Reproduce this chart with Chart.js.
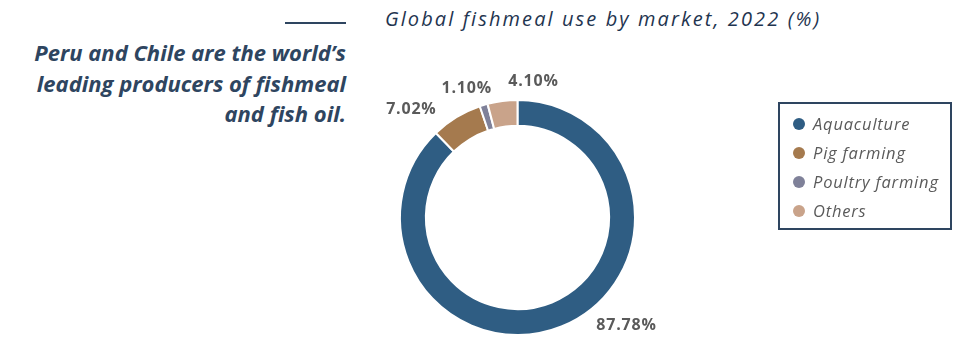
<!DOCTYPE html>
<html>
<head>
<meta charset="utf-8">
<script src="https://cdn.jsdelivr.net/npm/chart.js@4"></script>
<style>
  html, body { margin: 0; padding: 0; background: #fff; }
  body { width: 961px; height: 337px; position: relative; overflow: hidden; font-family: "Open Sans", Lato, sans-serif; }
  #chart { position: absolute; left: 0; top: 0; }
  .rule { position: absolute; left: 285px; top: 22px; width: 61px; height: 2px; background: #2e4560; }
  .headline {
    position: absolute; right: 615px; top: 37px; width: 360px; text-align: right;
    font-weight: bold; font-style: italic; font-size: 22px; line-height: 30.5px; color: #2e4560;
    letter-spacing: 0;
  }
  .title {
    position: absolute; left: 385px; top: 5px;
    font-style: italic; font-size: 20px; letter-spacing: 2.1px; color: #1f3550;
  }
  .legend {
    position: absolute; left: 778px; top: 102px; width: 170px; height: 124px;
    border: 2px solid #2e4560; box-sizing: content-box;
  }
  .legend div { position: absolute; left: 33px; font-style: italic; font-size: 16.5px; letter-spacing: 0.8px; color: #5a5a5a; line-height: 20px; white-space: nowrap; }
  .legend span { position: absolute; left: -20px; top: 4px; width: 12px; height: 12px; border-radius: 50%; }
</style>
</head>
<body>
<div class="rule"></div>
<div class="headline">Peru and Chile are the world’s<br>leading producers of fishmeal<br>and fish oil.</div>
<div class="title">Global fishmeal use by market, 2022 (%)</div>
<canvas id="chart" width="961" height="337"></canvas>
<div class="legend" id="legend"></div>
<script>
const markets = ['Aquaculture', 'Pig farming', 'Poultry farming', 'Others']
const shares = [87.78, 7.02, 1.10, 4.10]
const colours = ['#2f5d83', '#a57a4e', '#7f8199', '#c9a38a']

// where each value label sits relative to the middle of its slice's outer edge
const labelNudges = [[65, -1], [-45, -8], [-17, -17], [31, -20]]

const legend = document.getElementById('legend')
markets.forEach((name, i) => {
  const item = document.createElement('div')
  item.style.top = (10 + i * 29) + 'px'
  item.innerHTML = '<span style="background:' + colours[i] + '"></span>' + name
  legend.appendChild(item)
})

const sliceLabels = {
  id: 'sliceLabels',
  afterDatasetsDraw(chart) {
    const ctx = chart.ctx
    const meta = chart.getDatasetMeta(0)
    ctx.save()
    ctx.font = 'bold 16px "Open Sans", sans-serif'
    ctx.letterSpacing = '0.8px'
    ctx.fillStyle = '#5a5a5a'
    ctx.textAlign = 'center'
    ctx.textBaseline = 'middle'
    meta.data.forEach((arc, i) => {
      const p = arc.getProps(['x', 'y', 'startAngle', 'endAngle', 'outerRadius'], true)
      const mid = (p.startAngle + p.endAngle) / 2
      const x = p.x + Math.cos(mid) * p.outerRadius + labelNudges[i][0]
      const y = p.y + Math.sin(mid) * p.outerRadius + labelNudges[i][1]
      ctx.fillText(shares[i].toFixed(2) + '%', x, y)
    })
    ctx.restore()
  }
}

new Chart(document.getElementById('chart'), {
  type: 'doughnut',
  data: {
    labels: markets,
    datasets: [{
      data: shares,
      backgroundColor: colours,
      borderColor: '#ffffff',
      borderWidth: 2
    }]
  },
  options: {
    responsive: false,
    animation: false,
    cutout: '78%',
    layout: { padding: { left: 399, right: 325, top: 99, bottom: 1 } },
    plugins: {
      legend: { display: false },
      tooltip: { enabled: false }
    }
  },
  plugins: [sliceLabels]
})
</script>
</body>
</html>
